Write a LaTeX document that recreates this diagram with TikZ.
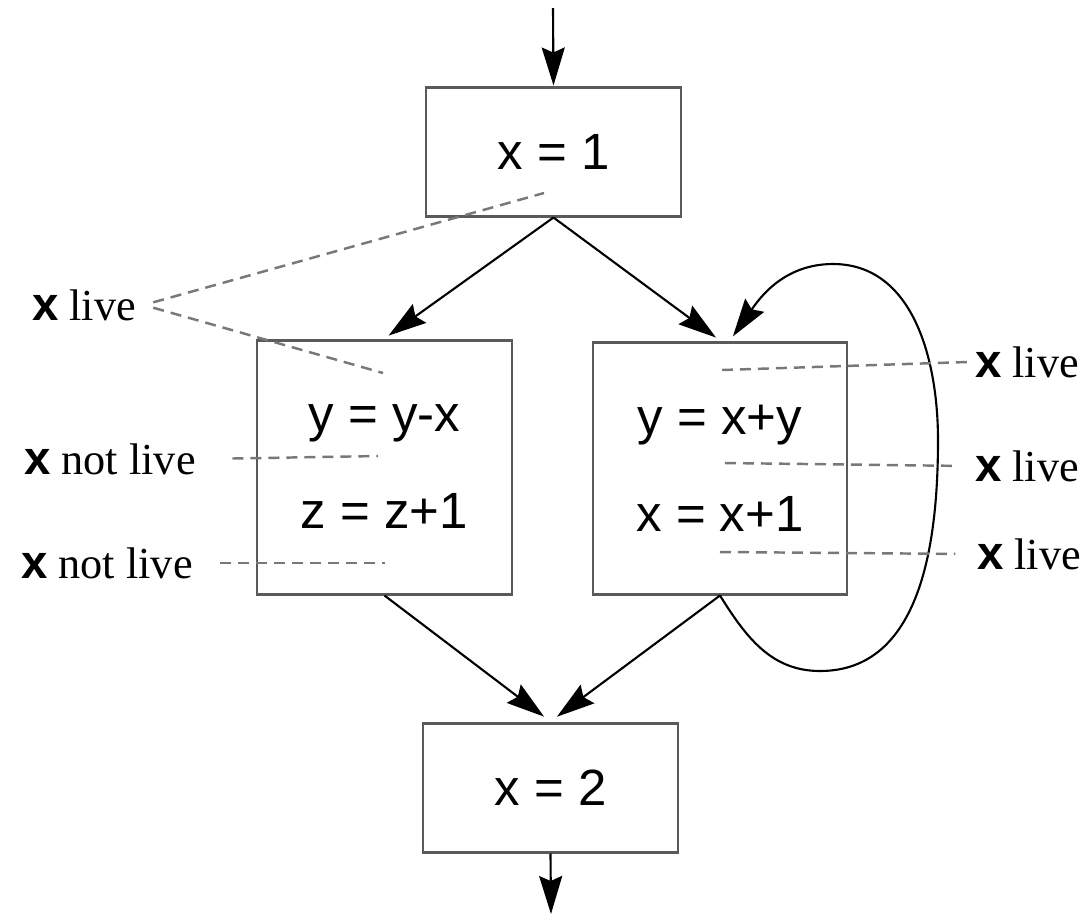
\documentclass[tikz,border=0pt]{standalone}
\usepackage{fontspec}
\setmainfont{Liberation Serif}
\setsansfont{Liberation Sans}
\usepackage{tikz}
\usetikzlibrary{arrows.meta,positioning,calc}
\definecolor{boxgray}{RGB}{90, 90, 90}
\definecolor{dashgray}{RGB}{120, 120, 120}
\newcommand{\varx}{{\sffamily\bfseries\fontsize{13.5}{16}\selectfont x}}

\begin{document}
\begin{tikzpicture}[>={Stealth[length=3.8mm, width=2.3mm, inset=0.5mm]},
        block/.style={draw=boxgray, line width=0.85pt, minimum width=2.55cm, align=center, font=\sffamily\fontsize{14.5}{17}\selectfont},
        flow/.style={->, line width=0.6pt},
        livelabel/.style={font=\fontsize{12.6}{15}\selectfont, inner sep=2pt},
        dashline/.style={draw=dashgray, line width=0.7pt, dash pattern=on 1.1mm off 0.7mm}]
        \useasboundingbox (0,0) rectangle (10.9,-9.14);

        % Basic blocks
        \node[block, minimum height=1.29cm] (init) at (5.535,-1.515) {x = 1};
        \node[block, minimum height=2.54cm] (left) at (3.845,-4.67) {y = y-x\\[10.6pt]z = z+1};
        \node[block, minimum height=2.52cm, minimum width=2.54cm] (right) at (7.2,-4.68) {y = x+y\\[10.6pt]x = x+1};
        \node[block, minimum height=1.29cm] (final) at (5.505,-7.875) {x = 2};

        % Entry and exit
        \coordinate (entry) at (5.53,-0.08);
        \coordinate (exit) at (5.51,-9.14);
        \draw[flow] (entry) -- (init.north);
        \draw[flow] (final.south) -- (exit);

        % Control flow edges
        \draw[flow, shorten >=0.5mm] (init.south) -- (left.north);
        \draw[flow, shorten >=0.5mm] (init.south) -- (right.north);
        \draw[flow, shorten >=0.8mm] (left.south) -- (final.north);
        \draw[flow, shorten >=0.8mm] (right.south) -- (final.north);

        % Back edge of the loop
        \draw[flow, shorten >=0.5mm] (right.south) to[out=-58, in=180] (8.2,-6.71)
            to[out=0, in=-90] (9.38,-4.4) to[out=90, in=0] (8.33,-2.64)
            to[out=180, in=55] ([xshift=1mm]right.north);

        % Liveness labels
        \node[livelabel] (live0) at (0.84,-3.05) {\varx\ live};
        \node[livelabel] (dead1) at (1.10,-4.59) {\varx\ not live};
        \node[livelabel] (dead2) at (1.07,-5.63) {\varx\ not live};
        \node[livelabel] (live1) at (10.27,-3.62) {\varx\ live};
        \node[livelabel] (live2) at (10.27,-4.66) {\varx\ live};
        \node[livelabel] (live3) at (10.29,-5.54) {\varx\ live};

        % Program points
        \coordinate (p0) at (5.44,-1.93);
        \coordinate (p1) at (3.83,-3.73);
        \coordinate (p2) at (3.78,-4.56);
        \coordinate (p3) at (3.85,-5.63);
        \coordinate (p4) at (7.22,-3.70);
        \coordinate (p5) at (7.25,-4.63);
        \coordinate (p6) at (7.20,-5.52);

        \draw[dashline, shorten <=1mm] (live0.east) -- (p0);
        \draw[dashline, shorten <=1mm] (live0.east) -- (p1);
        \draw[dashline, shorten <=2.9mm] (dead1.east) -- (p2);
        \draw[dashline, shorten <=2mm] (dead2.east) -- (p3);
        \draw[dashline] (p4) -- (live1.west);
        \draw[dashline, shorten >=1mm] (p5) -- (live2.west);
        \draw[dashline, shorten >=1.4mm] (p6) -- (live3.west);
    \end{tikzpicture}
\end{document}
